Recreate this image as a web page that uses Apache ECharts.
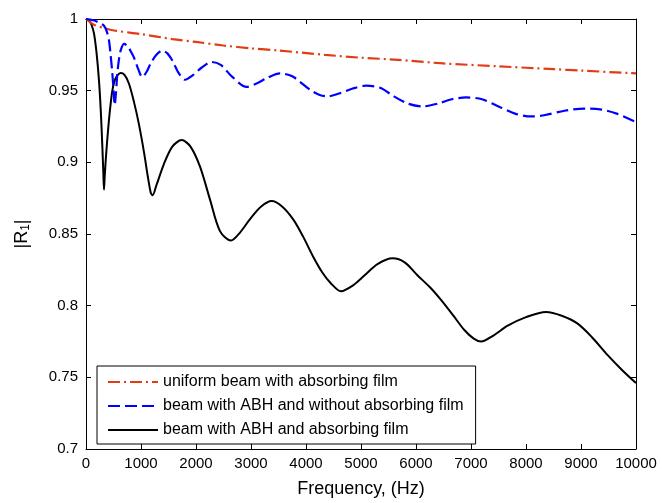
<!DOCTYPE html>
<html>
<head>
<meta charset="utf-8">
<script src="https://cdn.jsdelivr.net/npm/echarts@6/dist/echarts.min.js"></script>
<style>html,body{margin:0;padding:0;background:#fff}#c{width:662px;height:503px}</style>
</head>
<body>
<div id="c"></div>
<script>
var seriesNames = ['uniform beam with absorbing film', 'beam with ABH and without absorbing film', 'beam with ABH and absorbing film'];
var xTicks = [0, 1000, 2000, 3000, 4000, 5000, 6000, 7000, 8000, 9000, 10000];
var yTicks = [0.7, 0.75, 0.8, 0.85, 0.9, 0.95, 1];

var redFreq = [0, 145, 300, 509, 1000, 1570, 2000, 2500, 3000, 3500, 4345, 5000, 5667, 6500, 7500, 8500, 9000, 9873, 10000];
var redVal  = [1.0, 0.996, 0.994, 0.992, 0.9895, 0.986, 0.984, 0.9815, 0.9795, 0.978, 0.975, 0.973, 0.9715, 0.969, 0.967, 0.965, 0.964, 0.9623, 0.962];

var blueFreq = [0, 150, 250, 327, 380, 418, 450, 479, 505, 521, 540, 570, 600, 630, 691, 760, 820, 873, 950, 1024, 1100, 1176, 1280, 1388, 1480, 1570, 1690, 1800, 1950, 2100, 2285, 2450, 2650, 2921, 3100, 3300, 3527, 3750, 4073, 4250, 4400, 4600, 4850, 5091, 5350, 5600, 5850, 6121, 6400, 6650, 6909, 7200, 7500, 7800, 8091, 8350, 8700, 9060, 9350, 9650, 10000];
var blueVal  = [1.0, 0.999, 0.997, 0.9953, 0.991, 0.985, 0.974, 0.962, 0.948, 0.940, 0.946, 0.962, 0.972, 0.978, 0.9826, 0.981, 0.977, 0.973, 0.965, 0.9595, 0.963, 0.969, 0.975, 0.978, 0.976, 0.971, 0.962, 0.9576, 0.961, 0.966, 0.970, 0.968, 0.960, 0.9526, 0.955, 0.959, 0.962, 0.960, 0.9507, 0.947, 0.946, 0.948, 0.9515, 0.9535, 0.952, 0.946, 0.941, 0.939, 0.941, 0.944, 0.9453, 0.944, 0.939, 0.934, 0.932, 0.933, 0.936, 0.9375, 0.937, 0.934, 0.928];

var blackFreq = [0, 60, 100, 145, 190, 236, 270, 297, 315, 327, 340, 365, 400, 440, 479, 520, 570, 630, 700, 780, 873, 960, 1055, 1120, 1176, 1210, 1280, 1418, 1570, 1739, 1900, 2073, 2255, 2436, 2636, 2800, 2982, 3180, 3376, 3570, 3770, 3950, 4133, 4300, 4455, 4636, 4850, 5061, 5300, 5576, 5800, 6030, 6250, 6455, 6680, 6879, 7050, 7182, 7400, 7667, 8000, 8364, 8650, 8939, 9200, 9485, 9750, 10000];
var blackVal  = [1.0, 0.999, 0.996, 0.990, 0.977, 0.957, 0.935, 0.911, 0.893, 0.881, 0.890, 0.905, 0.922, 0.938, 0.950, 0.957, 0.9606, 0.9623, 0.961, 0.955, 0.942, 0.927, 0.907, 0.891, 0.879, 0.877, 0.884, 0.899, 0.911, 0.9155, 0.911, 0.897, 0.874, 0.852, 0.8454, 0.851, 0.8604, 0.869, 0.873, 0.869, 0.860, 0.848, 0.834, 0.823, 0.8155, 0.810, 0.814, 0.821, 0.829, 0.833, 0.830, 0.821, 0.813, 0.804, 0.793, 0.783, 0.777, 0.775, 0.779, 0.786, 0.792, 0.7956, 0.793, 0.7875, 0.778, 0.7655, 0.755, 0.746];

function pairs(xs, ys) { return xs.map(function (x, i) { return [x, ys[i]]; }); }

var FONT = 'Liberation Sans, Arial, sans-serif';
var chart = echarts.init(document.getElementById('c'), null, {renderer: 'canvas'});

var axisBase = {
  axisLine: {show: true, onZero: false, lineStyle: {color: '#000', width: 1}},
  axisTick: {show: true, inside: true, length: 5, lineStyle: {color: '#000'}},
  splitLine: {show: false}
};

chart.setOption({
  backgroundColor: '#fff',
  animation: false,
  grid: {left: 86, right: 26, top: 19, bottom: 52, containLabel: false},
  xAxis: [
    Object.assign({
      type: 'value', min: xTicks[0], max: xTicks[xTicks.length - 1], interval: 1000, position: 'bottom',
      name: 'Frequency, (Hz)', nameLocation: 'middle', nameGap: 31,
      nameTextStyle: {fontFamily: FONT, fontSize: 18, color: '#000'},
      axisLabel: {fontFamily: FONT, fontSize: 15, color: '#000', margin: 7,
        formatter: function (v) { return String(v); }}
    }, axisBase),
    Object.assign({
      type: 'value', min: xTicks[0], max: xTicks[xTicks.length - 1], interval: 1000, position: 'top',
      axisLabel: {show: false}
    }, axisBase)
  ],
  yAxis: [
    Object.assign({
      type: 'value', min: yTicks[0], max: yTicks[yTicks.length - 1], interval: 0.05, position: 'left',
      name: '|R{sub|1}|', nameLocation: 'middle', nameGap: 54, nameRotate: 90,
      nameTextStyle: {fontFamily: FONT, fontSize: 18, color: '#000',
        rich: {sub: {fontFamily: FONT, fontSize: 12, color: '#000', padding: [8, 0, 0, 0]}}},
      axisLabel: {fontFamily: FONT, fontSize: 15, color: '#000', margin: 8,
        formatter: function (v) { return String(Math.round(v * 100) / 100); }}
    }, axisBase),
    Object.assign({
      type: 'value', min: yTicks[0], max: yTicks[yTicks.length - 1], interval: 0.05, position: 'right',
      axisLabel: {show: false}
    }, axisBase)
  ],
  legend: {
    orient: 'vertical', left: 97, top: 366,
    padding: [8, 12, 6, 10], itemWidth: 50, itemHeight: 14, itemGap: 8,
    borderColor: '#000', borderWidth: 1, backgroundColor: '#fff',
    itemStyle: {opacity: 0},
    textStyle: {fontFamily: FONT, fontSize: 16, color: '#000'},
    data: seriesNames
  },
  series: [
    {name: seriesNames[0], type: 'line', data: pairs(redFreq, redVal), smooth: 0.3, symbol: 'none',
     lineStyle: {color: '#e23c14', width: 2.2, type: [12, 4, 2, 4]}, itemStyle: {color: '#e23c14'}, z: 3},
    {name: seriesNames[1], type: 'line', data: pairs(blueFreq, blueVal), smooth: 0.3, symbol: 'none',
     lineStyle: {color: '#0000ff', width: 2.2, type: [12, 5]}, itemStyle: {color: '#0000ff'}, z: 3},
    {name: seriesNames[2], type: 'line', data: pairs(blackFreq, blackVal), smooth: 0.3, symbol: 'none',
     lineStyle: {color: '#000000', width: 2, type: 'solid'}, itemStyle: {color: '#000000'}, z: 2}
  ]
});
</script>
</body>
</html>
